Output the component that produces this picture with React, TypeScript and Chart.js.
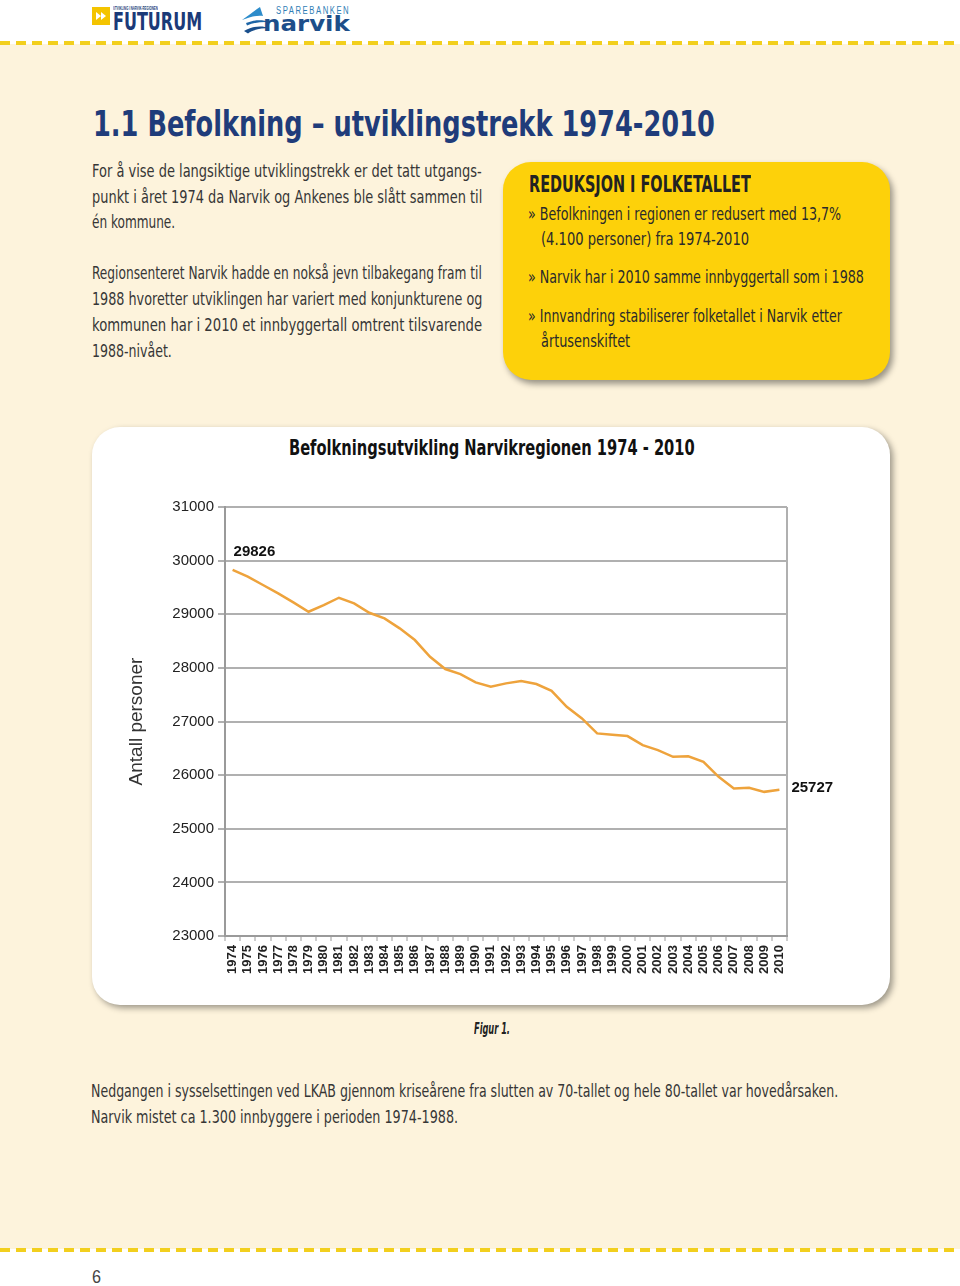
import React, { useEffect, useLayoutEffect, useRef } from "react";
import { Chart, registerables } from "chart.js";

Chart.register(...registerables);

// ---------- data ----------
const years = [
  "1974", "1975", "1976", "1977", "1978", "1979", "1980", "1981", "1982", "1983",
  "1984", "1985", "1986", "1987", "1988", "1989", "1990", "1991", "1992", "1993",
  "1994", "1995", "1996", "1997", "1998", "1999", "2000", "2001", "2002", "2003",
  "2004", "2005", "2006", "2007", "2008", "2009", "2010",
];
const population = [
  29826, 29700, 29545, 29390, 29222, 29047, 29170, 29308, 29203, 29028,
  28923, 28737, 28519, 28207, 27978, 27884, 27729, 27647, 27711, 27754,
  27698, 27573, 27275, 27058, 26778, 26752, 26728, 26560, 26466, 26341,
  26350, 26248, 25968, 25752, 25763, 25688, 25727,
];
const yMin = 23000;
const yMax = 31000;
const yStep = 1000;
const chartTitle = "Befolkningsutvikling Narvikregionen 1974 - 2010";
const yAxisTitle = "Antall personer";

const BODY = '"Liberation Sans Narrow", "DejaVu Sans Condensed", "Open Sans", sans-serif';
const ARIAL = '"Liberation Sans", Arial, sans-serif';

type FitProps = {
  text: string;
  left: number;
  cy: number;
  w: number;
  size: number;
  weight?: number;
  italic?: boolean;
  color?: string;
  family?: string;
  ls?: number;
};

function Fit({ text, left, cy, w, size, weight = 400, italic = false, color = "#333", family = BODY, ls = 0 }: FitProps) {
  const ref = useRef<HTMLSpanElement>(null);
  useLayoutEffect(() => {
    const el = ref.current;
    if (!el) return;
    el.style.transform = "none";
    const nat = el.offsetWidth;
    if (nat > 0) el.style.transform = `scaleX(${w / nat})`;
  }, [text, w, size]);
  return (
    <span
      ref={ref}
      style={{
        position: "absolute",
        left,
        top: cy - size * 0.59,
        fontSize: size,
        lineHeight: `${size * 1.2}px`,
        fontFamily: family,
        fontWeight: weight,
        fontStyle: italic ? "italic" : "normal",
        color,
        whiteSpace: "pre",
        transformOrigin: "0 0",
        letterSpacing: ls,
      }}
    >
      {text}
    </span>
  );
}

const endLabels = {
  id: "endLabels",
  afterDatasetsDraw(chart: any) {
    const meta = chart.getDatasetMeta(0);
    const pts = meta.data;
    if (!pts || !pts.length) return;
    const ctx = chart.ctx;
    const first = pts[0];
    const last = pts[pts.length - 1];
    ctx.save();
    ctx.font = `bold 15px ${ARIAL}`;
    ctx.fillStyle = "#111";
    ctx.textAlign = "left";
    ctx.textBaseline = "middle";
    ctx.fillText(String(population[0]), first.x + 1, first.y - 18);
    ctx.fillText(String(population[population.length - 1]), last.x + 12, last.y - 2);
    ctx.restore();
  },
};

function PopulationChart() {
  const canvasRef = useRef<HTMLCanvasElement>(null);
  useEffect(() => {
    if (!canvasRef.current) return;
    const chart = new Chart(canvasRef.current, {
      type: "line",
      data: {
        labels: years,
        datasets: [
          {
            data: population,
            borderColor: "#eea33c",
            borderWidth: 2.5,
            pointRadius: 0,
            tension: 0,
            fill: false,
          },
        ],
      },
      options: {
        responsive: false,
        animation: false,
        devicePixelRatio: 1,
        layout: { padding: { left: 0, top: 27, right: 93, bottom: 0 } },
        plugins: {
          legend: { display: false },
          tooltip: { enabled: false },
          title: { display: false },
        },
        scales: {
          x: {
            type: "category",
            offset: true,
            grid: {
              offset: true,
              drawOnChartArea: true,
              color: (c: any) => (c.type === "tick" ? "rgba(0,0,0,0)" : "#b0b0b0"),
              lineWidth: 2,
              drawTicks: true,
              tickLength: 5,
              tickColor: "#9a9a9a",
              tickWidth: 1,
            },
            border: { display: true, color: "#9a9a9a", width: 2 },
            ticks: {
              autoSkip: false,
              minRotation: 90,
              maxRotation: 90,
              padding: 4,
              color: "#222",
              font: { family: ARIAL, size: 13, weight: "bold" },
            },
            afterFit: (s: any) => {
              s.height = 54;
            },
          },
          y: {
            min: yMin,
            max: yMax,
            ticks: {
              stepSize: yStep,
              padding: 4,
              color: "#222",
              font: { family: ARIAL, size: 15 },
              callback: (v: any) => String(v),
            },
            grid: {
              color: "#b0b0b0",
              lineWidth: 2,
              drawTicks: true,
              tickLength: 7,
            },
            border: { display: true, color: "#9a9a9a", width: 2 },
            title: {
              display: true,
              text: yAxisTitle,
              color: "#333",
              font: { family: ARIAL, size: 19 },
              padding: { top: 25, bottom: 0 },
            },
            afterFit: (s: any) => {
              s.width = 125;
            },
          },
        },
      } as any,
      plugins: [endLabels],
    });
    return () => chart.destroy();
  }, []);
  return (
    <canvas
      ref={canvasRef}
      width={780}
      height={510}
      style={{ position: "absolute", left: 100, top: 480, width: 780, height: 510 }}
    />
  );
}

const dash = (top: number) => (
  <div
    style={{
      position: "absolute",
      left: 0,
      top,
      width: 960,
      height: 4,
      background: "repeating-linear-gradient(to right, #f2cf1e 0px, #f2cf1e 10px, transparent 10px, transparent 16px)",
    }}
  />
);

export default function App() {
  const textColor = "#363636";
  return (
    <div style={{ position: "absolute", left: 0, top: 0, width: 960, height: 1286, background: "#fff", overflow: "hidden" }}>
      {/* cream page */}
      <div style={{ position: "absolute", left: 0, top: 44, width: 960, height: 1205, background: "#fdf3dc" }} />
      {dash(41)}
      {dash(1248)}

      {/* logos */}
      <svg style={{ position: "absolute", left: 92, top: 7 }} width={18} height={18} viewBox="0 0 18 18">
        <rect x="0" y="0" width="18" height="18" fill="#f4c400" />
        <path d="M4 5 L9 9 L4 13 Z M9 5 L14 9 L9 13 Z" fill="#fff" />
      </svg>
      <Fit text="UTVIKLING I NARVIK-REGIONEN" left={113} cy={8} w={45} size={5} weight={700} color="#1b3a78" family={ARIAL} />
      <Fit text="FUTURUM" left={113} cy={22} w={89} size={25} weight={700} color="#1b3a78" />
      <svg style={{ position: "absolute", left: 240, top: 6 }} width={30} height={28} viewBox="0 0 30 28">
        <path d="M2 14 C 8 10, 14 5, 20 1 L 23 10 C 17 9, 10 11, 2 14 Z" fill="#2d8ccb" />
        <path d="M6 17 C 14 13.5, 23 13.5, 29 16 C 22 15.5, 14 16.5, 7 19.5 Z" fill="#1d65a6" />
        <path d="M4 25 C 12 20, 22 19.5, 29 22 C 22 22, 13 23.5, 8 27.5 Z" fill="#1a4f8c" />
      </svg>
      <Fit text="SPAREBANKEN" left={276} cy={10.5} w={74} size={10} color="#2f7db5" family={ARIAL} ls={2} />
      <Fit text="narvik" left={263} cy={24} w={87} size={22} weight={700} color="#1d4e8a" family='"DejaVu Sans", sans-serif' />

      {/* heading */}
      <Fit text="1.1 Befolkning – utviklingstrekk 1974-2010" left={93} cy={123} w={622} size={36} weight={700} color="#1f3c7a" />

      {/* left text */}
      <Fit text="For å vise de langsiktige utviklingstrekk er det tatt utgangs-" left={92} cy={171} w={390} size={18} color={textColor} />
      <Fit text="punkt i året 1974 da Narvik og Ankenes ble slått sammen til" left={92} cy={197} w={390} size={18} color={textColor} />
      <Fit text="én kommune." left={92} cy={222} w={83} size={18} color={textColor} />

      <Fit text="Regionsenteret Narvik hadde en nokså jevn tilbakegang fram til" left={92} cy={273} w={390} size={18} color={textColor} />
      <Fit text="1988 hvoretter utviklingen har variert med konjunkturene og" left={92} cy={299} w={390} size={18} color={textColor} />
      <Fit text="kommunen har i 2010 et innbyggertall omtrent tilsvarende" left={92} cy={325} w={390} size={18} color={textColor} />
      <Fit text="1988-nivået." left={92} cy={351} w={80} size={18} color={textColor} />

      {/* yellow box */}
      <div
        style={{
          position: "absolute",
          left: 503,
          top: 162,
          width: 387,
          height: 218,
          borderRadius: 28,
          background: "#fdd10a",
          boxShadow: "3px 4px 6px rgba(0,0,0,0.4)",
        }}
      />
      <Fit text="REDUKSJON I FOLKETALLET" left={529} cy={185} w={222} size={23} weight={700} color="#222" />
      <Fit text="» Befolkningen i regionen er redusert med 13,7%" left={528} cy={214} w={313} size={18} color="#2a2a2a" />
      <Fit text="(4.100 personer) fra 1974-2010" left={541} cy={239} w={208} size={18} color="#2a2a2a" />
      <Fit text="» Narvik har i 2010 samme innbyggertall som i 1988" left={528} cy={277} w={336} size={18} color="#2a2a2a" />
      <Fit text="» Innvandring stabiliserer folketallet i Narvik etter" left={528} cy={316} w={314} size={18} color="#2a2a2a" />
      <Fit text="årtusenskiftet" left={541} cy={341} w={89} size={18} color="#2a2a2a" />

      {/* chart panel */}
      <div
        style={{
          position: "absolute",
          left: 92,
          top: 427,
          width: 798,
          height: 578,
          borderRadius: 28,
          background: "#ffffff",
          boxShadow: "3px 3px 6px rgba(0,0,0,0.38)",
        }}
      />
      <Fit text={chartTitle} left={289} cy={448} w={406} size={22} weight={700} color="#111" />
      <PopulationChart />

      <Fit text="Figur 1." left={474} cy={1029} w={36} size={15} weight={700} italic color="#222" />

      <Fit
        text="Nedgangen i sysselsettingen ved LKAB gjennom kriseårene fra slutten av 70-tallet og hele 80-tallet var hovedårsaken."
        left={91}
        cy={1091}
        w={747}
        size={18}
        color={textColor}
      />
      <Fit text="Narvik mistet ca 1.300 innbyggere i perioden 1974-1988." left={91} cy={1117} w={367} size={18} color={textColor} />

      <Fit text="6" left={92} cy={1278} w={9} size={18} color="#444" family={ARIAL} />
    </div>
  );
}
